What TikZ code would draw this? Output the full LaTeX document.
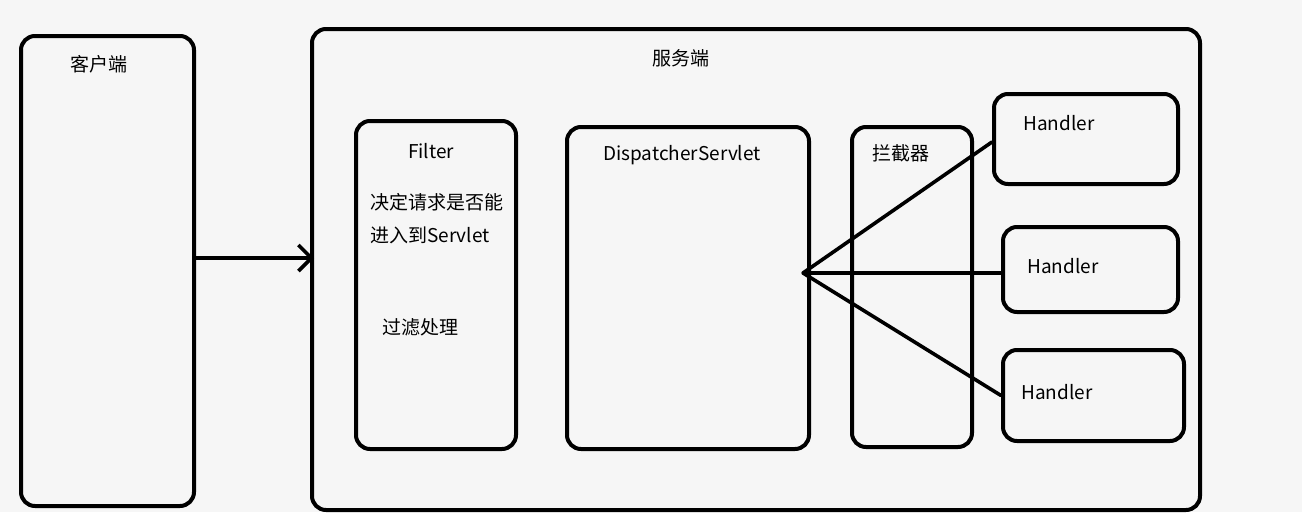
\documentclass[tikz,border=0pt]{standalone}
\usepackage{fontspec}
\setmainfont{Noto Sans CJK SC}
\usetikzlibrary{arrows.meta}
\definecolor{bg}{HTML}{F6F6F6}
\tikzset{
  box/.style={draw=black, line width=4pt, rounded corners=14pt, minimum width=#1, inner sep=0pt},
  lbl/.style={inner sep=0pt, font=\fontsize{19}{22}\selectfont},
  conn/.style={draw=black, line width=3.6pt}
}
\begin{document}
\begin{tikzpicture}[x=1pt,y=-1pt]
\fill[bg] (0,0) rectangle (1302,512);
\useasboundingbox (0,0) rectangle (1302,512);
% boxes (center, width, height)
\node[box=173pt, minimum height=470pt] (client) at (107.5,271) {};
\node[box=888pt, minimum height=481pt] (server) at (756,269.5) {};
\node[box=160pt, minimum height=328pt] (filter) at (436,285) {};
\node[box=242pt, minimum height=322pt] (disp) at (688,288) {};
\node[box=120pt, minimum height=320pt] (inter) at (912,287) {};
\node[box=184pt, minimum height=90pt] (h1) at (1086,139) {};
\node[box=175pt, minimum height=85pt] (h2) at (1090.5,269.5) {};
\node[box=181pt, minimum height=91pt] (h3) at (1093.5,395.5) {};
% labels
\node[lbl] (tclient) at (99,64) {客户端};
\node[lbl] (tserver) at (681,58) {服务端};
\node[lbl] (tfilter) at (431,151) {Filter};
\node[lbl, anchor=west] (tf1) at (370,202) {决定请求是否能};
\node[lbl, anchor=west] (tf2) at (370,235) {进入到Servlet};
\node[lbl, anchor=west] (tf3) at (382,327) {过滤处理};
\node[lbl] (tdisp) at (682,155) {DispatcherServlet};
\node[lbl, anchor=west] (tinter) at (872,153) {拦截器};
\node[lbl, anchor=west] (th1) at (1023,123) {Handler};
\node[lbl, anchor=west] (th2) at (1027,266) {Handler};
\node[lbl, anchor=west] (th3) at (1021,392) {Handler};
% connectors
\coordinate (a0) at (194,258);
\draw[conn, -{Straight Barb[length=13pt,width=26pt,line width=3.6pt]}] (a0) -- ([xshift=4pt]a0 -| server.west);
\coordinate (hub) at (803,273);
\draw[conn, line cap=round] (hub) -- (992,142);
\draw[conn] (hub) -- (hub -| h2.west);
\draw[conn, line cap=round] (hub) -- (h3.west);
\end{tikzpicture}
\end{document}
